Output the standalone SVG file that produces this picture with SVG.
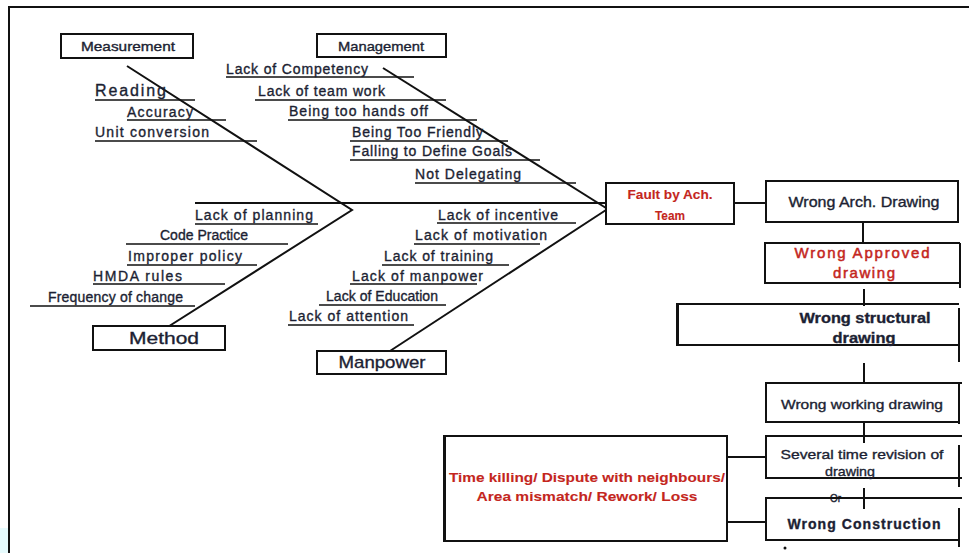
<svg xmlns="http://www.w3.org/2000/svg" width="969" height="553" viewBox="0 0 969 553">
<style>
text{font-family:"Liberation Sans",Arial,sans-serif;fill:#1c1f33;stroke:#1c1f33;stroke-width:0.35;}
.c{font-size:14px;}
.r{fill:#c4261d;stroke:#c4261d;font-weight:bold;stroke-width:0.1;}
.box{fill:#fff;stroke:#111;stroke-width:2;}
.ln{stroke:#111;stroke-width:1.6;fill:none;}
.sp{stroke:#111;stroke-width:2;fill:none;}
.mid{text-anchor:middle;}
</style>
<rect width="969" height="553" fill="#fff"/>
<rect x="0" y="528" width="8" height="25" fill="#e6fbfd"/>
<path class="sp" d="M9,553 V7 H969"/>

<g id="connectors">
  <path class="sp" d="M127,66 L352,210 L163,330"/>
  <path class="sp" d="M195,203 H606"/>
  <path class="sp" d="M383,68 L606,208"/>
  <path class="sp" d="M606,210 L390,351"/>
  <path class="ln" d="M95,100 H195 M127,120 H226 M95,141 H257"/>
  <path class="ln" d="M226,77 H414 M255,100 H446 M288,120 H477 M350,141 H508 M350,160 H540 M415,183 H576"/>
  <path class="ln" d="M195,224 H318 M126,244 H288 M127,265 H257 M93,284 H225 M30,306 H195"/>
  <path class="ln" d="M437,223 H576 M414,244 H540 M382,265 H509 M350,284 H477 M319,305 H446 M288,325 H414"/>
  <path class="sp" d="M734,203 H766"/>
  <path class="sp" d="M863,222 V243 M864,289 V306 M864,363 V383 M864,422 V443 M864,488 V509"/>
  <path class="sp" d="M727,457 H766 M727,522 H766"/>
</g>

<g id="measurement">
  <rect class="box" x="61" y="34" width="132" height="24"/>
  <text class="mid" x="128" y="51" font-size="13" textLength="94" lengthAdjust="spacingAndGlyphs">Measurement</text>
</g>
<g id="management">
  <rect class="box" x="317" y="34" width="129" height="23"/>
  <text class="mid" x="381" y="51" font-size="13" textLength="86" lengthAdjust="spacingAndGlyphs">Management</text>
</g>
<g id="method">
  <rect class="box" x="93" y="326" width="132" height="24"/>
  <text class="mid" x="164" y="344" font-size="17" textLength="70" lengthAdjust="spacingAndGlyphs">Method</text>
</g>
<g id="manpower">
  <rect class="box" x="317" y="351" width="129" height="23"/>
  <text class="mid" x="382" y="368" font-size="17" textLength="87" lengthAdjust="spacingAndGlyphs">Manpower</text>
</g>

<g id="measurement-causes">
  <text x="95" y="96" font-size="16" textLength="71" lengthAdjust="spacing">Reading</text>
  <text class="c" x="127" y="117" textLength="66" lengthAdjust="spacing">Accuracy</text>
  <text class="c" x="95" y="137" textLength="114" lengthAdjust="spacing">Unit conversion</text>
</g>
<g id="management-causes">
  <text class="c" x="226" y="74" textLength="142" lengthAdjust="spacing">Lack of Competency</text>
  <text class="c" x="258" y="96" textLength="127" lengthAdjust="spacing">Lack of team work</text>
  <text class="c" x="289" y="116" textLength="139" lengthAdjust="spacing">Being too hands off</text>
  <text class="c" x="352" y="137" textLength="131" lengthAdjust="spacing">Being Too Friendly</text>
  <text class="c" x="352" y="156" textLength="160" lengthAdjust="spacing">Falling to Define Goals</text>
  <text class="c" x="415" y="179" textLength="106" lengthAdjust="spacing">Not Delegating</text>
</g>
<g id="method-causes">
  <text class="c" x="195" y="220" textLength="118" lengthAdjust="spacing">Lack of planning</text>
  <text class="c" x="160" y="240" textLength="88" lengthAdjust="spacing">Code Practice</text>
  <text class="c" x="128" y="261" textLength="114" lengthAdjust="spacing">Improper policy</text>
  <text class="c" x="93" y="281" textLength="89" lengthAdjust="spacing">HMDA rules</text>
  <text class="c" x="48" y="302" textLength="135" lengthAdjust="spacing">Frequency of change</text>
</g>
<g id="manpower-causes">
  <text class="c" x="438" y="220" textLength="120" lengthAdjust="spacing">Lack of incentive</text>
  <text class="c" x="415" y="240" textLength="132" lengthAdjust="spacing">Lack of motivation</text>
  <text class="c" x="384" y="261" textLength="109" lengthAdjust="spacing">Lack of training</text>
  <text class="c" x="352" y="281" textLength="131" lengthAdjust="spacing">Lack of manpower</text>
  <text class="c" x="326" y="301" textLength="112" lengthAdjust="spacing">Lack of Education</text>
  <text class="c" x="289" y="321" textLength="119" lengthAdjust="spacing">Lack of attention</text>
</g>

<g id="fault">
  <rect class="box" x="606" y="183" width="128" height="41"/>
  <text class="r mid" x="670" y="199" font-size="12" textLength="85" lengthAdjust="spacingAndGlyphs">Fault  by Ach.</text>
  <text class="r mid" x="670" y="220" font-size="12" textLength="30" lengthAdjust="spacingAndGlyphs">Team</text>
</g>
<g id="wrong-arch">
  <rect class="box" x="766" y="181" width="192" height="41"/>
  <text class="mid" x="864" y="207" font-size="14" textLength="151" lengthAdjust="spacingAndGlyphs">Wrong Arch. Drawing</text>
</g>
<g id="wrong-approved">
  <path class="sp" d="M960,243 H765 V283 H960 M960,243 V288"/>
  <text class="r mid" x="862" y="258" font-size="15" textLength="135" lengthAdjust="spacing" style="font-weight:normal;stroke-width:0.5">Wrong  Approved</text>
  <text class="r mid" x="864" y="278" font-size="15" textLength="62" lengthAdjust="spacing" style="font-weight:normal;stroke-width:0.5">drawing</text>
</g>
<g id="wrong-structural">
  <path class="sp" d="M959,304 H677 V345 H959 M959,308 V362"/>
  <path class="sp" d="M678,304 V345" stroke-width="3"/>
  <text class="mid" x="865" y="323" font-size="15" font-weight="bold" textLength="131" lengthAdjust="spacingAndGlyphs">Wrong structural</text>
  <text class="mid" x="864" y="343" font-size="15" font-weight="bold" textLength="63" lengthAdjust="spacingAndGlyphs">drawing</text>
</g>
<g id="wrong-working">
  <path class="sp" d="M962,383 H766 V422 H959 M959,383 V424"/>
  <text class="mid" x="862" y="409" font-size="13" textLength="162" lengthAdjust="spacingAndGlyphs">Wrong working drawing</text>
</g>
<g id="several-revision">
  <path class="sp" d="M962,436 H766 V478 H962 M959,445 V487"/>
  <text class="mid" x="862" y="459" font-size="13" textLength="163" lengthAdjust="spacingAndGlyphs">Several time revision  of</text>
  <text class="mid" x="850" y="476" font-size="13" textLength="50" lengthAdjust="spacingAndGlyphs">drawing</text>
</g>
<g id="or-label">
  <text x="830" y="502" font-size="10">Or</text>
</g>
<g id="wrong-construction">
  <path class="sp" d="M962,498 H766 V540 H959 M959,508 V547"/>
  <text class="mid" x="864" y="529" font-size="14" font-weight="bold" textLength="153" lengthAdjust="spacing">Wrong   Construction</text>
  <circle cx="785" cy="548" r="1.5" fill="#111"/>
</g>
<g id="time-killing">
  <rect class="box" x="444" y="436" width="283" height="105"/>
  <path class="sp" d="M445,436 V541" stroke-width="3"/>
  <text class="r mid" x="587" y="482" font-size="13" textLength="276" lengthAdjust="spacingAndGlyphs">Time killing/ Dispute with neighbours/</text>
  <text class="r mid" x="587" y="501" font-size="13" textLength="221" lengthAdjust="spacingAndGlyphs">Area mismatch/ Rework/ Loss</text>
</g>
</svg>
